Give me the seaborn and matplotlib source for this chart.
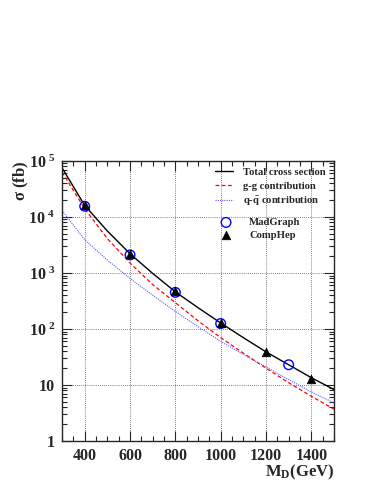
import numpy as np
import pandas as pd
import matplotlib
matplotlib.use('Agg')
import matplotlib.pyplot as plt
import seaborn as sns
from matplotlib.ticker import FixedLocator, FuncFormatter, MultipleLocator, LogLocator, NullFormatter

# --- data (sigma in fb vs M_D in GeV) ---
md_grid = [300, 400, 500, 600, 700, 800, 900, 1000, 1100, 1200, 1300, 1400, 1500]
sigma_total = [7.5e4, 1.6e4, 5.6e3, 2.2e3, 980, 460, 240, 128, 70, 39, 23, 13.5, 8.3]
sigma_gg = [6.3e4, 1.4e4, 4.1e3, 1.5e3, 620, 295, 140, 70, 37, 20, 11, 6.3, 3.7]
sigma_qq = [1.3e4, 3.9e3, 1.7e3, 800, 400, 205, 110, 60, 35, 21, 12.5, 7.5, 4.8]

madgraph_md = [400, 600, 800, 1000, 1300]
madgraph_sigma = [1.55e4, 2.1e3, 450, 125, 23]
comphep_md = [400, 600, 800, 1000, 1200, 1400]
comphep_sigma = [1.6e4, 2.2e3, 470, 130, 39, 13]

curves = pd.DataFrame({
    'md': md_grid * 3,
    'sigma': sigma_total + sigma_gg + sigma_qq,
    'which': ['Total cross section'] * 13 + ['g-g contribution'] * 13 + [r'q-$\bar{\rm q}$ contribution'] * 13,
})

sns.set_style('ticks')
plt.rcParams['font.family'] = ['Liberation Serif', 'DejaVu Serif']
plt.rcParams['font.weight'] = 'bold'
plt.rcParams['mathtext.fontset'] = 'custom'
plt.rcParams['mathtext.rm'] = 'Liberation Serif:bold'
plt.rcParams['mathtext.bf'] = 'Liberation Serif:bold'
plt.rcParams['mathtext.it'] = 'Liberation Serif:bold'

fig = plt.figure(figsize=(3.83, 4.95), dpi=100)
ax = fig.add_axes([0.162, 0.109, 0.710, 0.566])

styles = {'Total cross section': ('black', '-', 1.0),
          'g-g contribution': ('red', (0, (3, 2)), 0.9),
          r'q-$\bar{\rm q}$ contribution': ('#5a5aff', (0, (1, 1)), 0.8)}
line_handles = []
for name, (col, ls, lw) in styles.items():
    sub = curves[curves['which'] == name]
    sns.lineplot(data=sub, x='md', y='sigma', ax=ax, color=col, lw=lw,
                 linestyle=ls, label=name, legend=False)
    line_handles.append(ax.lines[-1])

sns.scatterplot(x=madgraph_md, y=madgraph_sigma, ax=ax, marker='o', s=48,
                facecolor='none', edgecolor='blue', linewidth=1.0, zorder=3)
h_mad = ax.collections[-1]
sns.scatterplot(x=comphep_md, y=comphep_sigma, ax=ax, marker='^', s=38,
                color='black', edgecolor='black', linewidth=0.5, zorder=4)
h_comp = ax.collections[-1]

ax.set_yscale('log')
ax.set_xlim(300, 1500)
ax.set_ylim(1, 1e5)

ax.xaxis.set_major_locator(FixedLocator([400, 600, 800, 1000, 1200, 1400]))
ax.xaxis.set_minor_locator(MultipleLocator(50))
ax.yaxis.set_major_locator(LogLocator(base=10, numticks=10))
ax.yaxis.set_minor_locator(LogLocator(base=10, subs=np.arange(2, 10), numticks=20))
ax.yaxis.set_minor_formatter(NullFormatter())


def ylab(v, pos):
    e = int(round(np.log10(v)))
    if e == 0:
        return '1'
    if e == 1:
        return '10'
    return r'$10^{\ %d}$' % e


ax.yaxis.set_major_formatter(FuncFormatter(ylab))
ax.tick_params(which='both', direction='in', top=True, right=True, width=0.8)
ax.tick_params(which='major', length=7, labelsize=11.5, pad=5)
ax.tick_params(which='minor', length=3.5)
for lbl in ax.get_xticklabels() + ax.get_yticklabels():
    lbl.set_fontweight('bold')

ax.grid(True, which='major', color='#555555', linestyle=(0, (1, 1.5)), linewidth=0.6)
for s in ax.spines.values():
    s.set_linewidth(1.0)

ax.set_xlabel(r'M$_{\rm D}$(GeV)', fontsize=12, fontweight='bold', loc='right')
ax.xaxis.set_label_coords(1.0, -0.078)
ax.set_ylabel(r'$\sigma$ (fb)', fontsize=12, fontweight='bold', loc='top')
ax.yaxis.set_label_coords(-0.115, 1.0)

leg1 = ax.legend(handles=line_handles, labels=list(styles.keys()), loc='upper left',
                 bbox_to_anchor=(0.54, 1.0), frameon=False, fontsize=7.7,
                 handlelength=1.7, handletextpad=0.9, labelspacing=0.4, borderaxespad=0.2)
ax.add_artist(leg1)
ax.legend(handles=[h_mad, h_comp], labels=['MadGraph', 'CompHep'], loc='upper left',
          bbox_to_anchor=(0.55, 0.82), frameon=False, fontsize=7.7,
          handlelength=1.5, handletextpad=1.4, labelspacing=0.3, borderaxespad=0.2)

fig.savefig('out.png', dpi=100)
